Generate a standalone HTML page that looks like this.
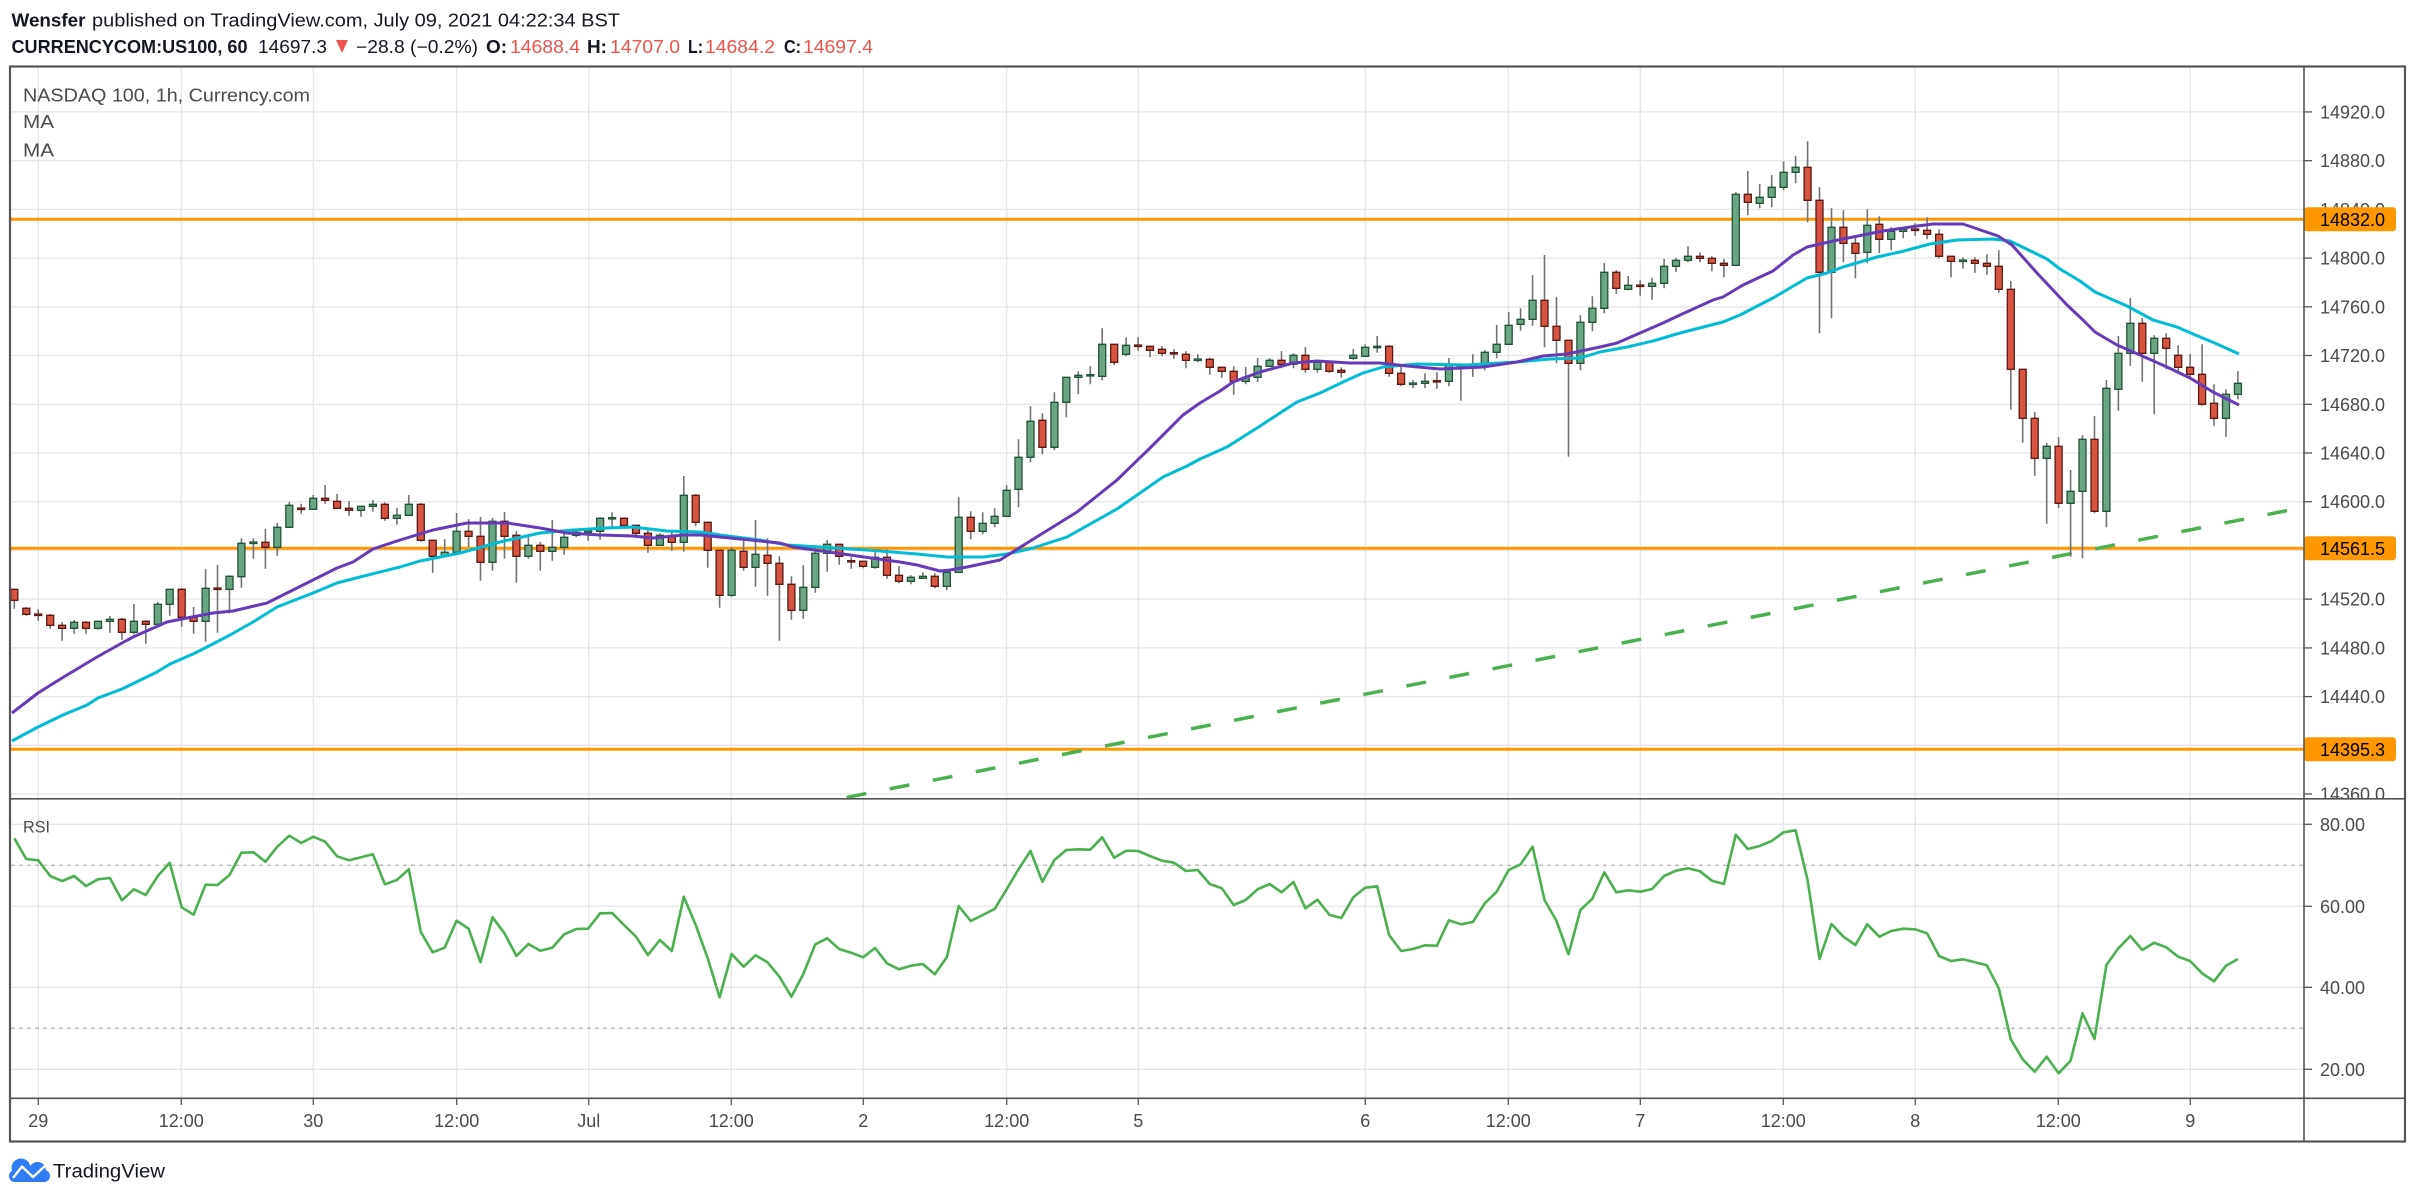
<!DOCTYPE html>
<html><head><meta charset="utf-8"><style>
html,body{margin:0;padding:0;background:#fff;}
svg{display:block;font-family:"Liberation Sans",Arial,sans-serif;}
.w{stroke:#737375;stroke-width:1.6;fill:none}
.gb{fill:#6ba583;stroke:#225437;stroke-width:1.3}
.rb{fill:#d75442;stroke:#5b1a13;stroke-width:1.3}
.grid{stroke:#e6e6e6;stroke-width:1.3}
.ax{fill:#4a4a4a;font-size:18px}
.tk{stroke:#555;stroke-width:1.3}
</style></head><body>
<svg width="2415" height="1199" viewBox="0 0 2415 1199" xmlns="http://www.w3.org/2000/svg">
<defs>
<clipPath id="cm"><rect x="11" y="67.5" width="2293" height="730.5"/></clipPath>
<clipPath id="cr"><rect x="11" y="799.5" width="2293" height="298"/></clipPath>
<clipPath id="ca"><rect x="2305" y="67.5" width="99" height="730.5"/></clipPath>
</defs>
<rect x="0" y="0" width="2415" height="1199" fill="#fff"/>

<!-- header -->
<text x="11.5" y="26.5" font-size="18" font-weight="bold" fill="#131722" textLength="74" lengthAdjust="spacingAndGlyphs">Wensfer</text>
<text x="92" y="26.5" font-size="18" fill="#131722" textLength="528" lengthAdjust="spacingAndGlyphs">published on TradingView.com, July 09, 2021 04:22:34 BST</text>
<text x="11.5" y="53" font-size="18" font-weight="bold" fill="#131722" textLength="236" lengthAdjust="spacingAndGlyphs">CURRENCYCOM:US100, 60</text>
<text x="258" y="53" font-size="18" fill="#131722" textLength="69" lengthAdjust="spacingAndGlyphs">14697.3</text>
<polygon points="336,40 348,40 342,53" fill="#ef5350"/>
<text x="356" y="53" font-size="18" fill="#131722" textLength="122" lengthAdjust="spacingAndGlyphs">−28.8 (−0.2%)</text>
<text x="486" y="53" font-size="18" font-weight="bold" fill="#131722" textLength="21" lengthAdjust="spacingAndGlyphs">O:</text>
<text x="510" y="53" font-size="18" fill="#ef5350" textLength="70" lengthAdjust="spacingAndGlyphs">14688.4</text>
<text x="587" y="53" font-size="18" font-weight="bold" fill="#131722" textLength="20" lengthAdjust="spacingAndGlyphs">H:</text>
<text x="610" y="53" font-size="18" fill="#ef5350" textLength="70" lengthAdjust="spacingAndGlyphs">14707.0</text>
<text x="688" y="53" font-size="18" font-weight="bold" fill="#131722" textLength="15" lengthAdjust="spacingAndGlyphs">L:</text>
<text x="705" y="53" font-size="18" fill="#ef5350" textLength="70" lengthAdjust="spacingAndGlyphs">14684.2</text>
<text x="784" y="53" font-size="18" font-weight="bold" fill="#131722" textLength="17" lengthAdjust="spacingAndGlyphs">C:</text>
<text x="803" y="53" font-size="18" fill="#ef5350" textLength="70" lengthAdjust="spacingAndGlyphs">14697.4</text>

<!-- grid -->
<g class="grid">
<line x1="11" x2="2304" y1="111.9" y2="111.9"/><line x1="11" x2="2304" y1="160.7" y2="160.7"/><line x1="11" x2="2304" y1="209.4" y2="209.4"/><line x1="11" x2="2304" y1="258.1" y2="258.1"/><line x1="11" x2="2304" y1="306.8" y2="306.8"/><line x1="11" x2="2304" y1="355.5" y2="355.5"/><line x1="11" x2="2304" y1="404.3" y2="404.3"/><line x1="11" x2="2304" y1="453" y2="453"/><line x1="11" x2="2304" y1="501.7" y2="501.7"/><line x1="11" x2="2304" y1="550.4" y2="550.4"/><line x1="11" x2="2304" y1="599.1" y2="599.1"/><line x1="11" x2="2304" y1="647.9" y2="647.9"/><line x1="11" x2="2304" y1="696.6" y2="696.6"/><line x1="11" x2="2304" y1="745.3" y2="745.3"/><line x1="11" x2="2304" y1="794" y2="794"/>
<line x1="11" x2="2304" y1="824.3" y2="824.3"/><line x1="11" x2="2304" y1="906.3" y2="906.3"/><line x1="11" x2="2304" y1="987.3" y2="987.3"/><line x1="11" x2="2304" y1="1069.3" y2="1069.3"/>
<line x1="38.3" x2="38.3" y1="67" y2="1098"/><line x1="181.3" x2="181.3" y1="67" y2="1098"/><line x1="313.3" x2="313.3" y1="67" y2="1098"/><line x1="456.7" x2="456.7" y1="67" y2="1098"/><line x1="588.7" x2="588.7" y1="67" y2="1098"/><line x1="731.3" x2="731.3" y1="67" y2="1098"/><line x1="863.3" x2="863.3" y1="67" y2="1098"/><line x1="1006.7" x2="1006.7" y1="67" y2="1098"/><line x1="1138.3" x2="1138.3" y1="67" y2="1098"/><line x1="1365.3" x2="1365.3" y1="67" y2="1098"/><line x1="1508.3" x2="1508.3" y1="67" y2="1098"/><line x1="1640.3" x2="1640.3" y1="67" y2="1098"/><line x1="1783.3" x2="1783.3" y1="67" y2="1098"/><line x1="1915.3" x2="1915.3" y1="67" y2="1098"/><line x1="2058.3" x2="2058.3" y1="67" y2="1098"/><line x1="2190.3" x2="2190.3" y1="67" y2="1098"/>
</g>
<line x1="11" x2="2304" y1="865.3" y2="865.3" stroke="#b8b8b8" stroke-width="1.4" stroke-dasharray="4,4"/>
<line x1="11" x2="2304" y1="1028.3" y2="1028.3" stroke="#b8b8b8" stroke-width="1.4" stroke-dasharray="4,4"/>

<!-- main pane -->
<g clip-path="url(#cm)">
<line x1="11" x2="2304" y1="219.3" y2="219.3" stroke="#ff9800" stroke-width="3"/>
<line x1="11" x2="2304" y1="548.3" y2="548.3" stroke="#ff9800" stroke-width="3"/>
<line x1="11" x2="2304" y1="749.3" y2="749.3" stroke="#ff9800" stroke-width="3"/>
<line x1="844" y1="798" x2="2290" y2="510" stroke="#4caf50" stroke-width="3.5" stroke-dasharray="20,23.9" stroke-dashoffset="-2.7"/>

<path class="w" d="M14.3 589V608.7M26.3 607V615.7M38.2 609.3V620.7M50.2 614V628.7M62.1 622V640.7M74.1 620V633.7M86 621V633.7M98 621V629.7M109.9 616V632.7M121.9 618V639.7M133.9 604V634.3M145.8 620.3V643.7M157.8 602V625.3M169.7 589.3V615.7M181.7 588.3V626.7M193.6 607V633.7M205.6 569V641.7M217.5 565V632.7M229.5 575.3V613.3M241.4 538.3V587.7M253.4 538.3V558.7M265.4 529V568.7M277.3 522.7V555.7M289.3 502V527.3M301.2 503.7V513.7M313.2 495V509.3M325.1 485V503.7M337.1 494V508.3M349 501V515.7M361 506.3V516.7M372.9 500V511.7M384.9 502.3V520.7M396.9 508V524.7M408.8 495V515.3M420.8 503V541.7M432.7 540.3V572.7M444.7 539V556.3M456.6 513V552.3M468.6 519.3V547M480.5 517V580.7M492.5 518V570.7M504.5 512V558.7M516.4 531V582.7M528.4 536V558.7M540.3 542V570.7M552.3 520V560.7M564.2 531.3V554.7M576.2 529V537.3M588.1 530V540.7M600.1 517.3V539.7M612.1 512.3V527.7M624 517.3V525.3M636 525.3V538.3M647.9 529.3V552.7M659.9 533.3V545.3M671.8 531.3V550.7M683.8 476V551.7M695.7 494V526.3M707.7 522.3V567.7M719.6 550.3V607.7M731.6 547.3V596.7M743.6 537.3V570.7M755.5 520V586.7M767.5 538.3V595.7M779.4 556.3V640.7M791.4 576.3V619.7M803.3 565.3V618.7M815.3 546.7V592.7M827.2 540V571.7M839.2 544.3V564.7M851.2 557.3V568.7M863.1 561.3V568.3M875.1 549.3V568.7M887 549.3V578.7M899 566V583.3M910.9 575.3V584.3M922.9 572.3V578.3M934.8 573.3V588.3M946.8 569.3V590.3M958.7 497.3V572.3M970.7 511.3V539.3M982.7 512.3V534.3M994.6 508.3V527.3M1006.6 485.3V516.3M1018.5 439.3V507.3M1030.5 406.3V462.3M1042.4 413.3V454.3M1054.4 392.3V450.3M1066.3 377.3V417.3M1078.3 371.3V394.3M1090.3 366.3V384.3M1102.2 328.3V380.3M1114.2 344.3V365.3M1126.1 337.3V356.3M1138.1 337.3V350.7M1150 346.3V357.3M1162 346.3V356.3M1173.9 349.3V358.7M1185.9 351.3V368.3M1197.8 354.3V362.3M1209.8 357.7V374.7M1221.8 367.3V377.7M1233.7 366.3V394.7M1245.7 367V384.3M1257.6 358V382M1269.6 358.3V366.3M1281.5 351V368.3M1293.5 353.3V368.3M1305.4 347V372.7M1317.4 360.3V372.7M1329.4 362.3V372.7M1341.3 367.3V377.7M1353.3 349V359.7M1365.2 344.3V356.3M1377.2 336V352.7M1389.1 345.3V376.7M1401.1 364.3V386.3M1413 380.3V388.3M1425 373.3V388.3M1436.9 372.3V388.7M1448.9 358V386.3M1460.9 364.3V400.7M1472.8 354.3V376.7M1484.8 350.3V370.3M1496.7 325V358.3M1508.7 312V344.3M1520.6 308.3V330.7M1532.6 275V325.7M1544.5 255V347.3M1556.5 297V363.3M1568.5 340.3V456.7M1580.4 315.3V370.3M1592.4 296.3V331.3M1604.3 263V313.3M1616.3 270V293.7M1628.2 276V290.3M1640.2 280.3V295.7M1652.1 278V299.7M1664.1 259V288.3M1676 258V271.7M1688 246.3V262.3M1700 252.3V262.3M1711.9 256.3V271.3M1723.9 259V277.3M1735.8 192.3V266.3M1747.8 171V215.3M1759.7 184V208.3M1771.7 175V207.3M1783.6 161.3V190.3M1795.6 156V183.3M1807.6 141.3V222.3M1819.5 187.3V333.3M1831.5 208.3V318.3M1843.4 210.3V262.3M1855.4 237.3V278.3M1867.3 209.3V263.3M1879.3 216.3V253.3M1891.2 227.3V250.3M1903.2 229.3V238.3M1915.1 223.3V235.7M1927.1 217.3V239.3M1939.1 229.3V258.3M1951 256.3V277.3M1963 257.3V268.7M1974.9 257.3V272.7M1986.9 254.3V274.7M1998.8 250.3V292.7M2010.8 281V409.5M2022.7 369.3V442.7M2034.7 411.7V475.7M2046.7 442.7V523.7M2058.6 437V508.3M2070.6 470V556.7M2082.5 435.3V558.3M2094.5 416V513.3M2106.4 380V527.3M2118.4 336V410.7M2130.3 298V365.7M2142.3 318V381.7M2154.2 335.3V414.3M2166.2 333.3V369.3M2178.2 345.3V371.3M2190.1 354V379.3M2202.1 344.3V405.7M2214 384.3V425.7M2226 389.3V436.7M2237.9 371.3V399.3"/>

<path class="gb" d="M70.6 622.3h7v6h-7zM94.5 621.3h7v7h-7zM106.4 619.3h7v2h-7zM130.4 621.3h7v11h-7zM154.3 604.3h7v20h-7zM166.2 589.3h7v15h-7zM202.1 588.3h7v33h-7zM226 576.3h7v13h-7zM237.9 543.3h7v33.4h-7zM249.9 542h7v1.5h-7zM273.8 527.3h7v20h-7zM285.8 505.3h7v22h-7zM309.7 498.3h7v11h-7zM357.5 506.3h7v4h-7zM369.4 504.3h7v2h-7zM393.4 515.3h7v3h-7zM405.3 504.3h7v11h-7zM441.2 552.3h7v4h-7zM453.1 531.3h7v21h-7zM489 521.3h7v41h-7zM524.9 545.3h7v11h-7zM548.8 547.3h7v4h-7zM560.7 537.3h7v10h-7zM572.7 532.3h7v3h-7zM584.6 531h7v1.5h-7zM596.6 518.3h7v13h-7zM608.6 517.6h7v1.4h-7zM656.4 535.3h7v10h-7zM680.3 495.3h7v47h-7zM728.1 550.3h7v45h-7zM752 554.3h7v13h-7zM799.8 587.3h7v23h-7zM811.8 553.3h7v34h-7zM823.7 544.3h7v9h-7zM871.6 557.3h7v10h-7zM907.4 577.3h7v4h-7zM919.4 576.3h7v2h-7zM943.3 572.3h7v14h-7zM955.2 517.3h7v55h-7zM979.2 523.3h7v8h-7zM991.1 516.3h7v7h-7zM1003.1 490.3h7v26h-7zM1015 457.3h7v32h-7zM1027 421.3h7v36h-7zM1050.9 402.3h7v45h-7zM1062.8 377.3h7v25h-7zM1074.8 375.3h7v2h-7zM1086.8 374.6h7v1.4h-7zM1098.7 344.3h7v32h-7zM1122.6 345.3h7v9h-7zM1194.3 359h7v1.5h-7zM1242.2 377.3h7v4h-7zM1254.1 366.3h7v11h-7zM1266.1 360.3h7v6h-7zM1290 355.3h7v9h-7zM1313.9 362.3h7v7h-7zM1349.8 355.3h7v3h-7zM1361.7 347.3h7v9h-7zM1373.7 346.3h7v1.4h-7zM1409.5 383h7v1.5h-7zM1421.5 381.3h7v2h-7zM1445.4 365.3h7v16h-7zM1469.3 365.3h7v2h-7zM1481.3 352.3h7v13h-7zM1493.2 344.3h7v8h-7zM1505.2 325.3h7v19h-7zM1517.1 319.3h7v5h-7zM1529.1 300.3h7v19h-7zM1576.9 322.3h7v41h-7zM1588.9 308.3h7v14h-7zM1600.8 272.3h7v36h-7zM1624.7 285.3h7v4h-7zM1648.6 283.3h7v3h-7zM1660.6 266.3h7v17h-7zM1672.5 260.3h7v6h-7zM1684.5 256.3h7v4h-7zM1732.3 194.3h7v71h-7zM1756.2 197.3h7v6h-7zM1768.2 187.3h7v10h-7zM1780.1 172.3h7v15h-7zM1792.1 167.3h7v5h-7zM1828 227.3h7v45h-7zM1863.8 225.3h7v27h-7zM1887.7 231.3h7v8h-7zM1899.7 229.3h7v2h-7zM1959.5 260h7v1.5h-7zM2043.2 446.3h7v12h-7zM2067.1 491.3h7v12h-7zM2079 439.3h7v52h-7zM2102.9 388.3h7v123h-7zM2114.9 353.3h7v36h-7zM2126.8 323.3h7v30h-7zM2150.7 338.3h7v15h-7zM2222.5 394.3h7v24h-7zM2234.4 383.3h7v11h-7z"/>

<path class="rb" d="M10.8 589.3h7v11h-7zM22.8 608.3h7v6h-7zM34.7 614h7v1.5h-7zM46.7 615.3h7v10h-7zM58.6 625.3h7v3h-7zM82.5 622.3h7v6h-7zM118.4 619.3h7v13h-7zM142.3 621.3h7v3h-7zM178.2 589.3h7v28h-7zM190.1 617.3h7v4h-7zM214 588h7v1.5h-7zM261.9 542.3h7v5h-7zM297.7 508h7v1.5h-7zM321.6 498.3h7v2h-7zM333.6 501.3h7v7h-7zM345.5 508.3h7v2h-7zM381.4 504.3h7v14h-7zM417.3 504.3h7v36h-7zM429.2 540.3h7v16h-7zM465.1 531.3h7v5h-7zM477 536.3h7v26h-7zM501 521.3h7v15h-7zM512.9 535.3h7v21h-7zM536.8 545.3h7v6h-7zM620.5 518.3h7v7h-7zM632.5 525.3h7v8h-7zM644.4 533.3h7v12h-7zM668.3 536.3h7v6h-7zM692.2 495.3h7v27h-7zM704.2 522.3h7v28h-7zM716.1 550.3h7v45h-7zM740.1 551.3h7v16h-7zM764 555.3h7v8h-7zM775.9 563.3h7v21h-7zM787.9 584.3h7v26h-7zM835.7 544.3h7v12h-7zM847.7 560.6h7v1.4h-7zM859.6 561.3h7v5h-7zM883.5 557.3h7v18h-7zM895.5 575.3h7v6h-7zM931.3 576.3h7v10h-7zM967.2 517.3h7v14h-7zM1038.9 420.3h7v27h-7zM1110.7 344.3h7v18h-7zM1134.6 345h7v1.5h-7zM1146.5 346.3h7v4h-7zM1158.5 349.3h7v4h-7zM1170.4 352.6h7v1.4h-7zM1182.4 354.3h7v6h-7zM1206.3 359.3h7v8h-7zM1218.3 367.3h7v4h-7zM1230.2 371.3h7v10h-7zM1278 360.3h7v4h-7zM1301.9 355.3h7v14h-7zM1325.9 362.3h7v9h-7zM1337.8 370.3h7v2h-7zM1385.6 346.3h7v27h-7zM1397.6 373.3h7v11h-7zM1433.4 380.6h7v1.4h-7zM1457.4 365.3h7v2h-7zM1541 300.3h7v26h-7zM1553 326.3h7v14h-7zM1565 340.3h7v23h-7zM1612.8 272.3h7v16h-7zM1636.7 285h7v1.5h-7zM1696.5 256.3h7v2h-7zM1708.4 258.3h7v5h-7zM1720.4 263.3h7v2h-7zM1744.3 194.3h7v8h-7zM1804.1 167.3h7v33h-7zM1816 200.3h7v72h-7zM1839.9 227.3h7v16h-7zM1851.9 243.3h7v10h-7zM1875.8 224.3h7v15h-7zM1911.6 229h7v1.5h-7zM1923.6 230.3h7v4h-7zM1935.6 234.3h7v22h-7zM1947.5 256.3h7v5h-7zM1971.4 260.3h7v3h-7zM1983.4 263.3h7v3h-7zM1995.3 266.3h7v23h-7zM2007.3 289.3h7v80h-7zM2019.2 369.3h7v49h-7zM2031.2 418.3h7v40h-7zM2055.1 446.3h7v57h-7zM2091 439.3h7v72h-7zM2138.8 323.3h7v30h-7zM2162.7 338.3h7v10h-7zM2174.7 355.3h7v12h-7zM2186.6 367.3h7v7h-7zM2198.6 374.3h7v30h-7zM2210.5 403.3h7v15h-7z"/>

<polyline fill="none" stroke="#00bcd4" stroke-width="3" stroke-linejoin="round" points="12,741 38,727 63,715 87,705 98,698 122,689 157,672 170,664 193,654 207,647 230,635 253,622 277,607 313,593 337,583 360,577 400,567 420,561 460,553 500,542 540,533 573,530 607,528 633,527 667,531 700,532 720,535 760,540 787,545 820,547 867,550 917,554 947,557 983,557 1007,554 1033,548 1067,537 1117,509 1163,477 1187,466 1200,459 1227,447 1257,428 1280,413 1297,402 1320,393 1343,382 1363,373 1383,367 1417,364 1467,365 1517,362 1550,359 1580,358 1600,352 1627,347 1653,341 1680,333 1723,322 1740,315 1773,298 1807,278 1827,273 1843,267 1877,257 1900,252 1930,244 1957,240 1993,239 2010,241 2047,259 2060,269 2080,281 2095,292 2127,306 2153,320 2177,327 2193,334 2217,344 2239,354"/>
<polyline fill="none" stroke="#673ab7" stroke-width="3" stroke-linejoin="round" points="12,713 38,693 62,678 97,657 122,643 133,637 167,622 187,618 213,613 233,611 267,603 287,593 313,580 337,568 353,562 373,549 400,540 433,530 467,523 507,523 540,528 567,533 600,535 633,536 653,538 683,535 700,535 720,537 780,543 793,547 800,548 850,555 900,562 917,565 940,571 950,570 967,567 1000,560 1027,543 1077,512 1117,480 1150,448 1183,415 1200,403 1220,391 1233,382 1260,372 1293,363 1317,361 1350,363 1380,363 1407,366 1440,369 1483,367 1517,362 1543,356 1567,354 1600,347 1617,343 1640,333 1663,323 1680,315 1713,300 1723,297 1743,285 1773,271 1793,255 1807,247 1833,241 1853,237 1883,231 1917,226 1933,224 1963,224 1998,236 2012,245 2037,273 2067,305 2083,320 2095,332 2117,345 2140,355 2167,367 2190,378 2213,392 2239,405"/>
</g>

<!-- pane legend -->
<text x="23" y="101.5" font-size="18" fill="#4a4a4a" textLength="287" lengthAdjust="spacingAndGlyphs">NASDAQ 100, 1h, Currency.com</text>
<text x="23" y="128" font-size="18" fill="#4a4a4a" textLength="31" lengthAdjust="spacingAndGlyphs">MA</text>
<text x="23" y="156.5" font-size="18" fill="#4a4a4a" textLength="31" lengthAdjust="spacingAndGlyphs">MA</text>

<!-- RSI pane -->
<g clip-path="url(#cr)">
<polyline fill="none" stroke="#4caf50" stroke-width="2.6" stroke-linejoin="round" points="14.3,838.3 26.3,859 38.2,860.3 50.2,876 62.1,881 74.1,876 86,886 98,879.3 109.9,878 121.9,900.3 133.9,889.3 145.8,895 157.8,876 169.7,862.7 181.7,907.3 193.6,914.7 205.6,884.7 217.5,885 229.5,875 241.4,852.7 253.4,852.3 265.4,861.7 277.3,846.7 289.3,835.7 301.2,843 313.2,836.7 325.1,841.7 337.1,856.3 349,860.3 361,857.3 372.9,854.3 384.9,884.3 396.9,880 408.8,869.3 420.8,932 432.7,952.3 444.7,947.7 456.6,920.7 468.6,928.7 480.5,962.3 492.5,917.3 504.5,933.3 516.4,956 528.4,944 540.3,950.7 552.3,947.7 564.2,934.3 576.2,929 588.1,928.7 600.1,913.3 612.1,913 624,925 636,936.7 647.9,955 659.9,940 671.8,951 683.8,896.7 695.7,925 707.7,958.3 719.6,997.3 731.6,954 743.6,966.7 755.5,955.3 767.5,962.3 779.4,976.7 791.4,996.7 803.3,974 815.3,944.3 827.2,938.3 839.2,949 851.2,952.7 863.1,957.3 875.1,948 887,963.3 899,969.3 910.9,965.7 922.9,964 934.8,974.3 946.8,957.3 958.7,906 970.7,921 982.7,915 994.6,909 1006.6,889.3 1018.5,869.3 1030.5,851 1042.4,881.7 1054.4,860 1066.3,850 1078.3,849.3 1090.3,849.7 1102.2,837.3 1114.2,857.7 1126.1,850.7 1138.1,851 1150,856 1162,860.7 1173.9,862.7 1185.9,871 1197.8,870 1209.8,884 1221.8,888.3 1233.7,905 1245.7,900 1257.6,889.3 1269.6,884 1281.5,892.3 1293.5,882 1305.4,908.3 1317.4,899.7 1329.4,914.7 1341.3,918 1353.3,897.3 1365.2,887.7 1377.2,886.3 1389.1,935 1401.1,951 1413,949 1425,945.3 1436.9,945.7 1448.9,920.3 1460.9,924.3 1472.8,922 1484.8,903.3 1496.7,891.7 1508.7,870 1520.6,864.3 1532.6,846.7 1544.5,900 1556.5,921 1568.5,954.3 1580.4,910 1592.4,898.7 1604.3,872.3 1616.3,892.3 1628.2,890.3 1640.2,891.7 1652.1,889 1664.1,876 1676,870.7 1688,868.3 1700,871.3 1711.9,880.7 1723.9,884 1735.8,834.7 1747.8,849 1759.7,846 1771.7,841 1783.6,832.3 1795.6,830.3 1807.6,880 1819.5,959 1831.5,924 1843.4,936.7 1855.4,945 1867.3,924.3 1879.3,936.7 1891.2,931 1903.2,928.7 1915.1,929.3 1927.1,933.3 1939.1,956 1951,961 1963,959.3 1974.9,962.3 1986.9,965.3 1998.8,988.3 2010.8,1039.3 2022.7,1059.3 2034.7,1071.7 2046.7,1056.7 2058.6,1073.3 2070.6,1060.7 2082.5,1013.3 2094.5,1039 2106.4,965 2118.4,948.3 2130.3,936 2142.3,950 2154.2,942.7 2166.2,947.3 2178.2,956.7 2190.1,961 2202.1,973.3 2214,981.3 2226,965.7 2237.9,959"/>
</g>
<text x="23" y="832.5" font-size="17" fill="#4a4a4a" textLength="27" lengthAdjust="spacingAndGlyphs">RSI</text>

<!-- price axis -->
<g class="tk">
<line x1="2304" x2="2312" y1="111.9" y2="111.9"/><line x1="2304" x2="2312" y1="160.7" y2="160.7"/><line x1="2304" x2="2312" y1="209.4" y2="209.4"/><line x1="2304" x2="2312" y1="258.1" y2="258.1"/><line x1="2304" x2="2312" y1="306.8" y2="306.8"/><line x1="2304" x2="2312" y1="355.5" y2="355.5"/><line x1="2304" x2="2312" y1="404.3" y2="404.3"/><line x1="2304" x2="2312" y1="453" y2="453"/><line x1="2304" x2="2312" y1="501.7" y2="501.7"/><line x1="2304" x2="2312" y1="599.1" y2="599.1"/><line x1="2304" x2="2312" y1="647.9" y2="647.9"/><line x1="2304" x2="2312" y1="696.6" y2="696.6"/><line x1="2304" x2="2312" y1="794" y2="794"/>
<line x1="2304" x2="2312" y1="824.3" y2="824.3"/><line x1="2304" x2="2312" y1="906.3" y2="906.3"/><line x1="2304" x2="2312" y1="987.3" y2="987.3"/><line x1="2304" x2="2312" y1="1069.3" y2="1069.3"/>
<line x1="38.3" x2="38.3" y1="1098" y2="1105"/><line x1="181.3" x2="181.3" y1="1098" y2="1105"/><line x1="313.3" x2="313.3" y1="1098" y2="1105"/><line x1="456.7" x2="456.7" y1="1098" y2="1105"/><line x1="588.7" x2="588.7" y1="1098" y2="1105"/><line x1="731.3" x2="731.3" y1="1098" y2="1105"/><line x1="863.3" x2="863.3" y1="1098" y2="1105"/><line x1="1006.7" x2="1006.7" y1="1098" y2="1105"/><line x1="1138.3" x2="1138.3" y1="1098" y2="1105"/><line x1="1365.3" x2="1365.3" y1="1098" y2="1105"/><line x1="1508.3" x2="1508.3" y1="1098" y2="1105"/><line x1="1640.3" x2="1640.3" y1="1098" y2="1105"/><line x1="1783.3" x2="1783.3" y1="1098" y2="1105"/><line x1="1915.3" x2="1915.3" y1="1098" y2="1105"/><line x1="2058.3" x2="2058.3" y1="1098" y2="1105"/><line x1="2190.3" x2="2190.3" y1="1098" y2="1105"/>
</g>
<g clip-path="url(#ca)" class="ax">
<text x="2320" y="118.4">14920.0</text><text x="2320" y="167.2">14880.0</text><text x="2320" y="215.9">14840.0</text><text x="2320" y="264.6">14800.0</text><text x="2320" y="313.3">14760.0</text><text x="2320" y="362">14720.0</text><text x="2320" y="410.8">14680.0</text><text x="2320" y="459.5">14640.0</text><text x="2320" y="508.2">14600.0</text><text x="2320" y="605.6">14520.0</text><text x="2320" y="654.4">14480.0</text><text x="2320" y="703.1">14440.0</text><text x="2320" y="800.5">14360.0</text>
</g>
<g class="ax">
<text x="2320" y="830.8">80.00</text><text x="2320" y="912.8">60.00</text><text x="2320" y="993.8">40.00</text><text x="2320" y="1075.8">20.00</text>
</g>
<g font-size="18" fill="#000">
<rect x="2304" y="207.3" width="92" height="24" rx="3" fill="#ff9800"/><text x="2320" y="225.8">14832.0</text>
<rect x="2304" y="536.3" width="92" height="24" rx="3" fill="#ff9800"/><text x="2320" y="554.8">14561.5</text>
<rect x="2304" y="737.3" width="92" height="24" rx="3" fill="#ff9800"/><text x="2320" y="755.8">14395.3</text>
</g>

<!-- time axis labels -->
<g class="ax" text-anchor="middle">
<text x="38.3" y="1127">29</text><text x="181.3" y="1127">12:00</text><text x="313.3" y="1127">30</text><text x="456.7" y="1127">12:00</text><text x="588.7" y="1127">Jul</text><text x="731.3" y="1127">12:00</text><text x="863.3" y="1127">2</text><text x="1006.7" y="1127">12:00</text><text x="1138.3" y="1127">5</text><text x="1365.3" y="1127">6</text><text x="1508.3" y="1127">12:00</text><text x="1640.3" y="1127">7</text><text x="1783.3" y="1127">12:00</text><text x="1915.3" y="1127">8</text><text x="2058.3" y="1127">12:00</text><text x="2190.3" y="1127">9</text>
</g>

<!-- frame -->
<g stroke="#555" fill="none">
<rect x="10" y="66.5" width="2395" height="1075" stroke-width="2.2"/>
<line x1="2304" x2="2304" y1="66.5" y2="1141.5" stroke-width="1.6"/>
<line x1="10" x2="2405" y1="798.8" y2="798.8" stroke-width="1.6"/>
<line x1="10" x2="2405" y1="1098.3" y2="1098.3" stroke-width="1.6"/>
</g>

<!-- logo -->
<g fill="#2f7cf6">
<rect x="9" y="1170" width="41" height="12" rx="6"/>
<circle cx="21" cy="1168" r="9.5"/>
<circle cx="37.5" cy="1170.5" r="8.5"/>
</g>
<polyline points="13,1178 22,1166.5 33,1177 45,1166" fill="none" stroke="#fff" stroke-width="2.4" stroke-linejoin="round"/>
<text x="53" y="1177.5" font-size="19" fill="#131722" textLength="112" lengthAdjust="spacingAndGlyphs">TradingView</text>
</svg>
</body></html>
